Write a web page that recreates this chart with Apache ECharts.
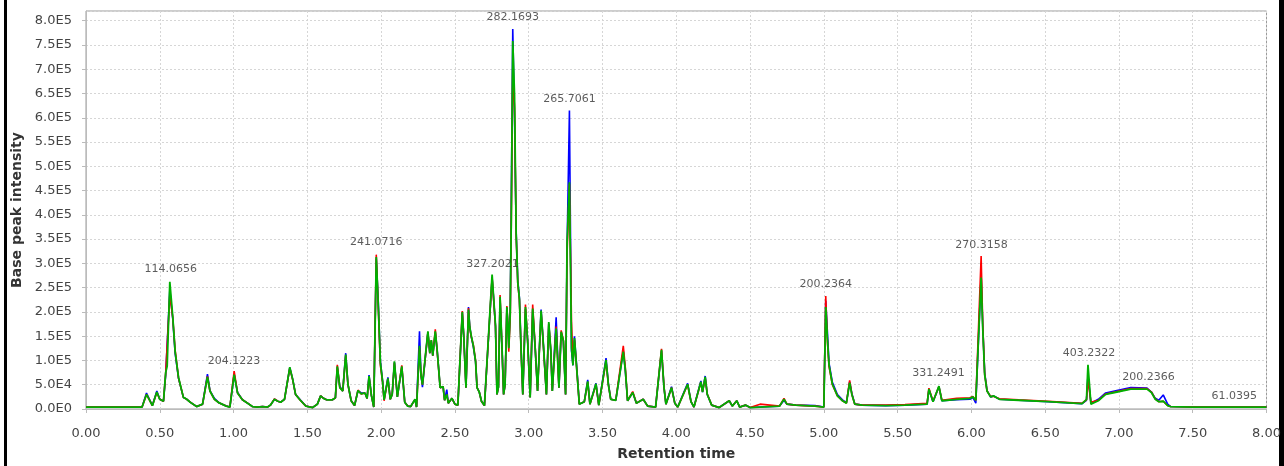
<!DOCTYPE html>
<html>
<head>
<meta charset="utf-8">
<script src="https://cdn.jsdelivr.net/npm/echarts@6/dist/echarts.min.js"></script>
<style>
  html, body { margin: 0; padding: 0; background: #fff; }
  #chart { width: 1284px; height: 466px; }
</style>
</head>
<body>
<div id="chart"></div>
<script>
// Retention time (min)
const times = [
  0, 0.38, 0.41, 0.45, 0.48, 0.50,
  0.51, 0.525, 0.54, 0.55, 0.568, 0.588, 0.604, 0.627, 0.66, 0.683, 0.706, 0.75, 0.79, 0.823, 0.84, 0.87, 0.90, 0.95, 0.975,
  1.004, 1.027, 1.06, 1.095, 1.128, 1.16, 1.196, 1.23, 1.25, 1.277, 1.30, 1.32, 1.345, 1.381, 1.40, 1.42, 1.455, 1.49,
  1.535, 1.568, 1.59, 1.61, 1.63, 1.67, 1.69, 1.703, 1.72, 1.74, 1.76, 1.775, 1.797, 1.82, 1.843, 1.865, 1.89, 1.905, 1.918, 1.934, 1.95, 1.967, 1.98, 1.995,
  2.01, 2.02, 2.046, 2.062, 2.075, 2.09, 2.11, 2.14, 2.16, 2.18, 2.20, 2.23, 2.24, 2.26, 2.27, 2.28, 2.30, 2.317, 2.33, 2.34, 2.35, 2.367, 2.38, 2.40, 2.41, 2.42, 2.43, 2.445, 2.455, 2.48,
  2.50, 2.52, 2.55, 2.56, 2.575, 2.592, 2.60, 2.61, 2.625, 2.64, 2.65, 2.665, 2.68, 2.70, 2.71, 2.752, 2.76, 2.775, 2.785, 2.795, 2.806, 2.82, 2.83, 2.84, 2.852, 2.86, 2.865, 2.875, 2.882, 2.892, 2.904, 2.915, 2.926, 2.937, 2.948, 2.96, 2.978, 2.993,
  3.01, 3.027, 3.045, 3.06, 3.084, 3.10, 3.12, 3.136, 3.15, 3.16, 3.186, 3.205, 3.22, 3.235, 3.25, 3.26, 3.276, 3.29, 3.30, 3.31, 3.326, 3.343, 3.377, 3.40, 3.415, 3.456, 3.475,
  3.524, 3.54, 3.556, 3.59, 3.641, 3.655, 3.67, 3.705, 3.73, 3.776, 3.806, 3.86, 3.90, 3.917, 3.93, 3.968, 3.99,
  4.01, 4.077, 4.10, 4.12, 4.167, 4.178, 4.196, 4.21, 4.24, 4.29, 4.359, 4.38, 4.41, 4.43, 4.47, 4.50, 4.568, 4.70, 4.73, 4.75, 4.81, 4.94, 5.00,
  5.013, 5.024, 5.035, 5.058, 5.092, 5.126, 5.153, 5.175, 5.19, 5.21, 5.26, 5.42, 5.55, 5.70, 5.712, 5.74, 5.78, 5.80, 5.90, 5.99,
  6.01, 6.03, 6.066, 6.077, 6.09, 6.106, 6.13, 6.15, 6.19, 6.32, 6.52, 6.75, 6.78, 6.79, 6.81, 6.86, 6.91, 6.97, 7.08, 7.19, 7.22, 7.246, 7.27, 7.30, 7.33, 7.35, 7.50, 8.00
];

// Base peak intensity, in thousands
const blueK = [
  4, 4, 33, 7, 37, 20,
  24, 16, 70, 72, 245, 185, 115, 63, 24, 20, 14, 5, 10, 72, 38, 22, 13, 6, 4,
  72, 34, 19, 12, 5, 4, 5, 4, 8, 20, 16, 14, 20, 85, 62, 30, 18, 6,
  3, 10, 27, 22, 19, 19, 23, 86, 47, 37, 115, 51, 17, 7, 38, 33, 33, 22, 70, 28, 4, 310, 225, 98,
  57, 19, 65, 20, 30, 96, 25, 86, 14, 6, 5, 20, 4, 160, 71, 45, 108, 158, 115, 140, 110, 158, 120, 44, 40, 46, 18, 40, 12, 22,
  10, 8, 198, 150, 44, 210, 172, 150, 128, 98, 44, 35, 16, 7, 8, 270, 238, 170, 30, 45, 228, 118, 30, 50, 208, 168, 128, 205, 420, 783, 600, 365, 265, 230, 128, 30, 206, 140,
  24, 205, 120, 37, 205, 130, 30, 176, 118, 37, 189, 44, 157, 140, 30, 330, 615, 120, 90, 150, 85, 10, 15, 60, 10, 53, 8,
  105, 52, 20, 18, 120, 78, 17, 34, 12, 20, 6, 4, 120, 44, 10, 46, 12,
  4, 53, 15, 4, 58, 35, 68, 30, 8, 3, 17, 6, 17, 4, 8, 3, 4, 6, 18, 10, 8, 7, 4,
  223, 160, 95, 55, 30, 19, 13, 56, 32, 10, 8, 7, 8, 10, 40, 15, 46, 17, 19, 20,
  24, 12, 275, 170, 75, 38, 25, 27, 20, 18, 15, 11, 18, 70, 12, 20, 33, 37, 44, 43, 35, 22, 18, 29, 10, 5, 4, 4
];

const redK = [
  4, 4, 30, 7, 34, 20,
  24, 16, 74, 76, 235, 188, 122, 64, 24, 20, 14, 5, 10, 67, 37, 20, 13, 6, 4,
  78, 33, 19, 12, 5, 4, 5, 4, 8, 21, 16, 14, 20, 84, 61, 30, 17, 6,
  3, 10, 27, 22, 19, 19, 23, 91, 44, 37, 110, 51, 17, 7, 39, 31, 33, 22, 66, 28, 4, 318, 215, 90,
  55, 17, 62, 20, 30, 95, 25, 90, 14, 6, 5, 20, 4, 125, 70, 50, 108, 158, 115, 142, 110, 164, 118, 44, 40, 46, 18, 30, 12, 22,
  10, 8, 202, 148, 44, 208, 168, 150, 132, 100, 44, 35, 16, 7, 8, 272, 236, 170, 30, 45, 235, 118, 30, 50, 212, 168, 118, 190, 380, 700, 620, 360, 258, 225, 124, 30, 215, 138,
  24, 215, 122, 37, 200, 128, 30, 175, 120, 37, 170, 44, 162, 142, 30, 320, 463, 180, 95, 142, 80, 10, 15, 55, 10, 50, 8,
  98, 50, 20, 18, 130, 85, 17, 36, 12, 20, 6, 4, 124, 45, 10, 44, 12,
  4, 50, 15, 4, 55, 36, 64, 31, 8, 3, 17, 6, 17, 4, 8, 3, 10, 6, 22, 10, 8, 6, 4,
  233, 140, 88, 50, 27, 17, 12, 59, 30, 10, 8, 8, 9, 12, 43, 16, 46, 18, 22, 23,
  26, 18, 315, 175, 72, 37, 26, 26, 21, 19, 16, 12, 19, 60, 14, 18, 31, 35, 42, 42, 35, 21, 15, 16, 7, 5, 4, 4
];

const greenK = [
  4, 4, 30, 7, 35, 20,
  24, 16, 75, 88, 262, 190, 118, 65, 24, 20, 14, 5, 10, 66, 37, 20, 13, 6, 4,
  71, 33, 19, 12, 5, 4, 5, 4, 8, 20, 16, 14, 20, 86, 62, 30, 17, 6,
  3, 10, 27, 22, 19, 19, 23, 88, 44, 37, 112, 51, 17, 7, 38, 31, 33, 22, 68, 28, 4, 313, 220, 95,
  57, 19, 63, 20, 30, 98, 25, 88, 14, 6, 5, 20, 4, 130, 71, 50, 110, 160, 115, 142, 110, 160, 120, 44, 40, 46, 18, 30, 12, 22,
  10, 8, 200, 150, 44, 205, 170, 152, 130, 98, 44, 35, 16, 7, 8, 277, 240, 173, 30, 45, 231, 120, 30, 50, 210, 170, 125, 200, 396, 758, 646, 362, 261, 227, 126, 30, 210, 140,
  24, 207, 120, 37, 203, 130, 30, 179, 120, 37, 166, 44, 159, 140, 30, 342, 467, 126, 90, 146, 80, 10, 15, 57, 10, 52, 8,
  101, 50, 20, 18, 118, 80, 17, 34, 12, 20, 6, 4, 122, 44, 10, 44, 12,
  4, 51, 15, 4, 56, 35, 66, 30, 8, 3, 17, 6, 17, 4, 8, 3, 4, 6, 20, 10, 8, 6, 4,
  210, 146, 91, 51, 27, 17, 12, 54, 30, 10, 8, 7, 8, 10, 41, 15, 47, 17, 20, 22,
  25, 18, 271, 166, 71, 37, 25, 27, 20, 18, 15, 11, 20, 91, 10, 17, 30, 34, 41, 41, 34, 20, 15, 16, 7, 5, 4, 4
];

// Peak annotations (m/z), with anchor time and intensity (thousands)
const peakLabels = ['114.0656', '204.1223', '241.0716', '327.2021', '282.1693', '265.7061', '200.2364', '331.2491', '270.3158', '403.2322', '200.2366', '61.0395'];
const peakLabelTimes = [0.574, 1.003, 1.967, 2.755, 2.892, 3.276, 5.013, 5.777, 6.069, 6.797, 7.20, 7.782];
const peakLabelK = [288, 98, 343, 298, 807, 639, 258, 73, 338, 115, 66, 27];

const xTickLabels = ['0.00','0.50','1.00','1.50','2.00','2.50','3.00','3.50','4.00','4.50','5.00','5.50','6.00','6.50','7.00','7.50','8.00'];

function pairs(ys) { return times.map((t, i) => [t, ys[i]]); }

function sci(vK) {
  const v = vK * 1000;
  if (v === 0) return '0.0E0';
  const e = Math.floor(Math.log10(v) + 1e-9);
  const m = v / Math.pow(10, e);
  return m.toFixed(1) + 'E' + e;
}

const chart = echarts.init(document.getElementById('chart'), null, { renderer: 'canvas' });
const lineBase = { type: 'line', showSymbol: false, symbol: 'none', smooth: false, animation: false };

chart.setOption({
  backgroundColor: '#ffffff',
  animation: false,
  grid: { left: 86, right: 16, top: 11, bottom: 51, show: true, borderColor: '#9a9a9a', borderWidth: 1, containLabel: false },
  xAxis: {
    type: 'value', min: 0, max: 8, interval: 0.5, offset: 4,
    name: 'Retention time', nameLocation: 'middle', nameGap: 34,
    nameTextStyle: { fontFamily: 'DejaVu Sans', fontWeight: 'bold', fontSize: 14, color: '#333' },
    axisLine: { show: true, lineStyle: { color: '#bbb', width: 1 } },
    axisTick: { show: true, length: 4, lineStyle: { color: '#bbb' } },
    axisLabel: { margin: 14, fontFamily: 'DejaVu Sans', fontSize: 13, color: '#444',
      formatter: v => xTickLabels[Math.round(v / 0.5)] },
    splitLine: { show: true, lineStyle: { color: '#d6d6d6', type: [2, 2], width: 1 } }
  },
  yAxis: {
    type: 'value', min: 0, max: 820, interval: 50, offset: 5,
    name: 'Base peak intensity', nameLocation: 'middle', nameGap: 51, nameRotate: 90,
    nameTextStyle: { fontFamily: 'DejaVu Sans', fontWeight: 'bold', fontSize: 14, color: '#333' },
    axisLine: { show: true, lineStyle: { color: '#bbb', width: 1 } },
    axisTick: { show: true, length: 4, lineStyle: { color: '#bbb' } },
    axisLabel: { margin: 9, fontFamily: 'DejaVu Sans', fontSize: 13, color: '#444', showMaxLabel: false,
      formatter: v => sci(v) },
    splitLine: { show: true, lineStyle: { color: '#d6d6d6', type: [2, 2], width: 1 } }
  },
  series: [
    Object.assign({}, lineBase, { name: 'blue', data: pairs(blueK), lineStyle: { color: '#0000ff', width: 1.6 }, z: 2 }),
    Object.assign({}, lineBase, { name: 'red', data: pairs(redK), lineStyle: { color: '#ff0000', width: 1.6 }, z: 3 }),
    Object.assign({}, lineBase, { name: 'green', data: pairs(greenK), lineStyle: { color: '#00b000', width: 1.8 }, z: 4 }),
    {
      type: 'scatter', symbol: 'circle', symbolSize: 1, z: 10, animation: false, silent: true,
      itemStyle: { color: 'rgba(0,0,0,0)' },
      data: peakLabels.map((s, i) => ({ name: s, value: [peakLabelTimes[i], peakLabelK[i]] })),
      label: { show: true, position: 'inside', formatter: p => p.name,
        fontFamily: 'DejaVu Sans', fontSize: 11, color: '#333' }
    }
  ],
  graphic: [
    { type: 'rect', left: 4, top: 0, shape: { width: 3, height: 466 }, style: { fill: '#000' }, silent: true },
    { type: 'rect', left: 1279, top: 0, shape: { width: 5, height: 466 }, style: { fill: '#000' }, silent: true }
  ]
});
</script>
</body>
</html>
